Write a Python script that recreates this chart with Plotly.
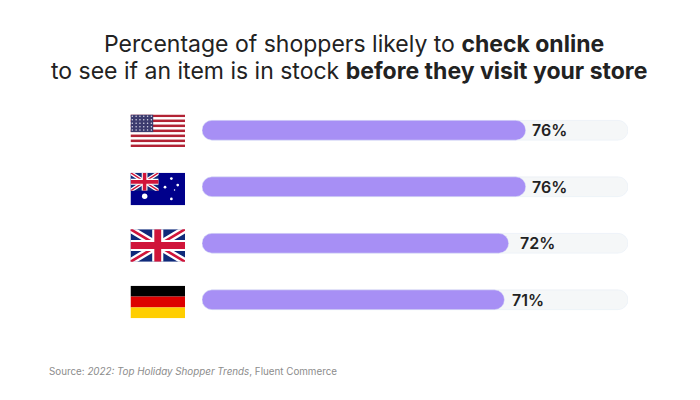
import base64
import plotly.graph_objects as go

countries = ["United States", "Australia", "United Kingdom", "Germany"]
shares = [76, 76, 72, 71]
track = [100, 100, 100, 100]
title_lines = [
    "Percentage of shoppers likely to <b>check online</b>",
    "to see if an item is in stock <b>before they visit your store</b>",
]
source = "Source: <i>2022: Top Holiday Shopper Trends</i>, Fluent Commerce"


def svg_uri(body, w=60, h=36):
    svg = f'<svg xmlns="http://www.w3.org/2000/svg" viewBox="0 0 {w} {h}" preserveAspectRatio="none" width="{w * 4}" height="{h * 4}">{body}</svg>'
    return "data:image/svg+xml;base64," + base64.b64encode(svg.encode()).decode()


def union_jack(w, h):
    return (
        f'<rect width="{w}" height="{h}" fill="#0f2a7a"/>'
        f'<path d="M0 0L{w} {h}M{w} 0L0 {h}" stroke="#fff" stroke-width="{h * 0.22}"/>'
        f'<path d="M0 0L{w} {h}M{w} 0L0 {h}" stroke="#d0153a" stroke-width="{h * 0.08}"/>'
        f'<path d="M{w / 2} 0V{h}M0 {h / 2}H{w}" stroke="#fff" stroke-width="{h * 0.34}"/>'
        f'<path d="M{w / 2} 0V{h}M0 {h / 2}H{w}" stroke="#d0153a" stroke-width="{h * 0.21}"/>'
    )


def us_flag():
    body = '<rect width="60" height="36" fill="#fff"/>'
    for i in range(0, 13, 2):
        body += f'<rect y="{i * 36 / 13:.2f}" width="60" height="{36 / 13:.2f}" fill="#B22234"/>'
    body += '<rect width="25" height="19.4" fill="#3C3B6E"/>'
    for r in range(5):
        for c in range(6):
            body += f'<circle cx="{2 + c * 4.2:.1f}" cy="{2 + r * 3.8:.1f}" r="0.85" fill="#d8d8e8"/>'
    return svg_uri(body)


def au_flag():
    body = '<rect width="60" height="36" fill="#00008B"/>'
    body += f'<svg width="31" height="20" viewBox="0 0 60 36" preserveAspectRatio="none">{union_jack(60, 36)}</svg>'
    stars = [(15.6, 26, 3), (45, 29, 1.5), (45, 6.5, 1.5), (38, 16, 1.5), (52, 13.6, 1.5), (48.5, 19, 0.8)]
    for x, y, r in stars:
        body += f'<circle cx="{x}" cy="{y}" r="{r}" fill="#fff"/>'
    return svg_uri(body)


def de_flag():
    return svg_uri(
        '<rect width="60" height="12" fill="#000"/>'
        '<rect y="12" width="60" height="12" fill="#DD0000"/>'
        '<rect y="24" width="60" height="12" fill="#FFCE00"/>'
    )


flags = [us_flag(), au_flag(), svg_uri(union_jack(60, 36)), de_flag()]


# page px -> paper coords, the page body adds 8px around the figure
def px_x(v):
    return (v - 202) / 426


def px_y(v):
    return (327.6 - v) / 225.6


fig = go.Figure()
fig.add_bar(y=countries, x=track, base=0, orientation="h", marker_color="#f5f7f8", hoverinfo="skip")
fig.add_bar(y=countries, x=shares, base=0, orientation="h", marker_color="#a78ff5")

# flags sit left of the axis, slightly below the bar centres
for i, src in enumerate(flags):
    fig.add_layout_image(
        source=src, xref="paper", yref="paper",
        x=px_x(130.5), y=1 - (i + 0.5 + [0.01, 0.04, 0.04, 0.04][i]) / 4,
        sizex=54.5 / 426, sizey=32.5 / 225.6, xanchor="left", yanchor="middle",
        sizing="stretch", layer="above",
    )

notes = []
for line, cx, cy in zip(title_lines, [353.5, 349], [44, 71]):
    notes.append(dict(
        text=line, xref="paper", yref="paper", x=px_x(cx), y=px_y(cy),
        xanchor="center", yanchor="middle", showarrow=False,
        font=dict(size=23, color="#222222"),
    ))
for country, v, shift in zip(countries, shares, [4, 4, 9, 6]):
    notes.append(dict(
        text=f"{v}%", xref="x", yref="y", x=v, y=country, xshift=shift,
        xanchor="left", yanchor="middle", showarrow=False,
        font=dict(family="Inter", size=16, color="#222222", weight=600),
    ))
notes.append(dict(
    text=source, xref="paper", yref="paper", x=px_x(46.5), y=px_y(371),
    xanchor="left", yanchor="middle", showarrow=False,
    font=dict(size=9.8, color="#8c8c8c"),
))

fig.update_layout(
    width=692, height=392, barmode="overlay", bargap=0.65, showlegend=False,
    barcornerradius="50%",
    paper_bgcolor="white", plot_bgcolor="white",
    margin=dict(l=194, r=72, t=94, b=72),
    font=dict(family="Inter", color="#222222"),
    xaxis=dict(range=[0, 100], visible=False, fixedrange=True),
    yaxis=dict(range=[3.5, -0.5], visible=False, fixedrange=True),
    annotations=notes,
)

fig.write_html("out.html")
